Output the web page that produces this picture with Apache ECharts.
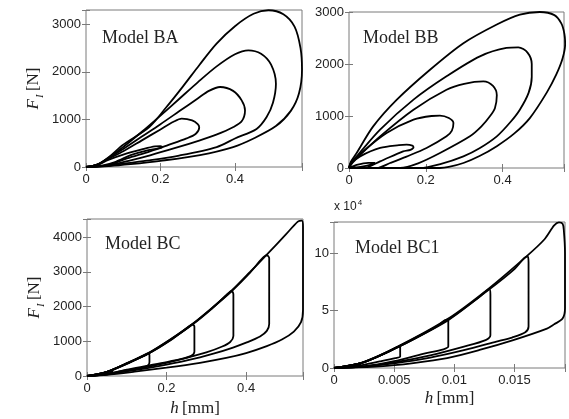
<!DOCTYPE html>
<html><head><meta charset="utf-8">
<script src="https://cdn.jsdelivr.net/npm/echarts/dist/echarts.min.js"></script>
<style>html,body{margin:0;padding:0;background:#fff}#c{width:569px;height:419px}</style>
</head><body><div id="c"></div><script>
// Hysteresis loops, indentation force F_I [N] against depth h [mm], four models.

// Model BA loops, [h, F]
const modelBA = [
  [[0,0],[0.03,50],[0.06,200],[0.1,470],[0.17,840],[0.215,1250],[0.26,1690],[0.305,2150],[0.35,2590],[0.4,2960],[0.45,3220],[0.49,3295],[0.53,3210],[0.56,2950],[0.576,2500],[0.58,2050],[0.572,1550],[0.55,1180],[0.51,860],[0.45,600],[0.395,420],[0.306,251],[0.2,130],[0.12,60],[0.06,20],[0,0]],
  [[0,0],[0.03,50],[0.06,190],[0.1,420],[0.15,740],[0.2,1080],[0.25,1430],[0.3,1780],[0.35,2110],[0.4,2370],[0.436,2453],[0.47,2380],[0.497,2150],[0.51,1750],[0.502,1350],[0.485,1050],[0.458,800],[0.4,600],[0.351,420],[0.25,240],[0.17,140],[0.1,70],[0.06,25],[0,0]],
  [[0,0],[0.03,50],[0.06,180],[0.1,380],[0.15,640],[0.2,900],[0.25,1170],[0.3,1440],[0.33,1600],[0.36,1682],[0.395,1600],[0.418,1400],[0.427,1190],[0.418,960],[0.396,841],[0.35,680],[0.306,561],[0.24,400],[0.172,245],[0.12,140],[0.06,35],[0,0]],
  [[0,0],[0.03,45],[0.06,170],[0.1,330],[0.15,560],[0.2,790],[0.235,950],[0.257,1016],[0.285,980],[0.3,900],[0.304,830],[0.295,700],[0.27,600],[0.22,460],[0.172,330],[0.11,180],[0.06,45],[0,0]],
  [[0,0],[0.03,40],[0.06,150],[0.1,260],[0.15,370],[0.185,435],[0.2,440],[0.205,415],[0.195,390],[0.16,340],[0.12,250],[0.08,110],[0.04,25],[0,0]]
];

// Model BB loops, [h, F]
const modelBB = [
  [[0,0],[0.005,120],[0.02,288],[0.063,800],[0.124,1310],[0.211,1890],[0.298,2400],[0.385,2760],[0.445,2950],[0.497,3000],[0.535,2940],[0.553,2780],[0.561,2580],[0.563,2380],[0.556,2100],[0.54,1800],[0.515,1450],[0.471,960],[0.43,660],[0.385,420],[0.34,230],[0.298,96],[0.26,20],[0.237,0],[0,0]],
  [[0,0],[0.005,100],[0.02,224],[0.081,737],[0.168,1314],[0.254,1763],[0.341,2147],[0.41,2308],[0.441,2320],[0.465,2220],[0.476,2000],[0.476,1750],[0.468,1450],[0.445,1122],[0.42,880],[0.385,609],[0.34,380],[0.298,224],[0.24,80],[0.185,0],[0,0]],
  [[0,0],[0.005,90],[0.02,192],[0.081,609],[0.168,1122],[0.254,1506],[0.3,1620],[0.35,1667],[0.375,1580],[0.385,1400],[0.38,1150],[0.367,994],[0.345,800],[0.315,609],[0.237,288],[0.18,90],[0.133,0],[0,0]],
  [[0,0],[0.005,80],[0.037,320],[0.098,673],[0.168,929],[0.215,1000],[0.237,1006],[0.26,960],[0.272,865],[0.268,720],[0.254,609],[0.202,385],[0.15,220],[0.107,96],[0.072,0],[0,0]],
  [[0,0],[0.01,110],[0.029,224],[0.081,385],[0.13,440],[0.15,449],[0.165,430],[0.168,400],[0.16,350],[0.141,320],[0.081,128],[0.037,0],[0,0]],
  [[0,0],[0.02,60],[0.05,100],[0.068,100],[0.06,70],[0.03,20],[0,0]]
];

// Model BC loops, [h, F]
const modelBC = [
  [[0,0],[0.05,120],[0.1,370],[0.154,660],[0.21,1060],[0.265,1500],[0.315,1970],[0.364,2465],[0.41,3000],[0.452,3500],[0.5,4080],[0.53,4450],[0.54,4480],[0.543,4300],[0.543,3000],[0.543,1900],[0.538,1550],[0.52,1280],[0.49,1050],[0.452,860],[0.4,660],[0.35,520],[0.284,380],[0.2,240],[0.12,125],[0.05,35],[0,0]],
  [[0,0],[0.05,120],[0.1,365],[0.154,650],[0.21,1050],[0.265,1490],[0.315,1960],[0.364,2450],[0.41,2980],[0.44,3380],[0.452,3480],[0.458,3400],[0.458,2500],[0.458,1500],[0.452,1300],[0.435,1140],[0.4,960],[0.367,820],[0.32,650],[0.284,540],[0.2,330],[0.12,170],[0.05,45],[0,0]],
  [[0,0],[0.05,120],[0.1,360],[0.154,645],[0.21,1040],[0.265,1480],[0.315,1950],[0.35,2330],[0.364,2450],[0.368,2350],[0.368,1700],[0.368,1150],[0.36,980],[0.34,850],[0.3,680],[0.25,520],[0.2,380],[0.12,190],[0.05,50],[0,0]],
  [[0,0],[0.05,118],[0.1,355],[0.154,640],[0.21,1030],[0.255,1420],[0.265,1490],[0.27,1420],[0.27,1000],[0.27,700],[0.262,580],[0.24,500],[0.2,400],[0.15,290],[0.1,180],[0.05,55],[0,0]],
  [[0,0],[0.05,115],[0.1,345],[0.145,610],[0.154,650],[0.157,600],[0.157,400],[0.154,310],[0.141,240],[0.1,170],[0.06,80],[0.03,30],[0,0]],
  [[0,0],[0.03,40],[0.06,140],[0.064,120],[0.05,60],[0,0]]
];

// Model BC1 loops, [h, F]
const modelBC1 = [
  [[0,0],[0.0024,5000],[0.0053,18600],[0.0094,42300],[0.0128,68600],[0.016,97100],[0.0175,112000],[0.0183,124000],[0.0187,126600],[0.019,125500],[0.0191,120000],[0.0192,100000],[0.0192,70000],[0.0192,52000],[0.019,43000],[0.0183,38000],[0.0177,34300],[0.0149,24300],[0.0121,15700],[0.0094,8600],[0.0066,4300],[0.0038,1400],[0,0]],
  [[0,0],[0.0024,4900],[0.0053,18400],[0.0094,41500],[0.0128,67500],[0.015,86000],[0.0158,95500],[0.0161,97100],[0.01617,92000],[0.01617,60000],[0.01617,36000],[0.0159,31000],[0.0148,26500],[0.0135,22900],[0.0108,15500],[0.008,9000],[0.005,4000],[0.0025,1200],[0,0]],
  [[0,0],[0.0024,4800],[0.0053,18200],[0.0094,41000],[0.0118,59500],[0.0126,66500],[0.0129,68600],[0.013,64000],[0.013,40000],[0.013,28500],[0.0126,24300],[0.0108,18600],[0.008,11000],[0.005,4800],[0.0025,1300],[0,0]],
  [[0,0],[0.0024,4700],[0.0053,18000],[0.0085,36000],[0.0092,41500],[0.0095,42300],[0.0095,38000],[0.0095,24000],[0.0095,18600],[0.0091,16300],[0.0074,12300],[0.005,6000],[0.0025,1500],[0,0]],
  [[0,0],[0.0024,4600],[0.0045,14000],[0.0052,18000],[0.0055,18600],[0.0055,15000],[0.0055,10000],[0.0051,8600],[0.0038,5700],[0.002,2000],[0,0]],
  [[0,0],[0.0015,2500],[0.0022,4000],[0.0022,3000],[0.0015,1500],[0,0]]
];

const panelNames = ['Model BA', 'Model BB', 'Model BC', 'Model BC1'];

// axis ranges
const xMaxes = [0.58, 0.56, 0.543, 0.0192];
const yMaxes = [3300, 3000, 4525, 127000];

// tick labels
const xTickValues = [[0, 0.2, 0.4], [0, 0.2, 0.4], [0, 0.2, 0.4], [0, 0.005, 0.01, 0.015]];
const xTickLabels = [['0', '0.2', '0.4'], ['0', '0.2', '0.4'], ['0', '0.2', '0.4'], ['0', '0.005', '0.01', '0.015']];
const yTickValues = [[0, 1000, 2000, 3000], [0, 1000, 2000, 3000], [0, 1000, 2000, 3000, 4000], [0, 50000, 100000]];
const yTickLabels = [['0', '1000', '2000', '3000'], ['0', '1000', '2000', '3000'], ['0', '1000', '2000', '3000', '4000'], ['0', '5', '10']];

const allLoops = [modelBA, modelBB, modelBC, modelBC1];

const grids = [
  { left: 86, top: 10, width: 216, height: 157 },
  { left: 349, top: 12, width: 215, height: 156 },
  { left: 87, top: 219, width: 216, height: 157 },
  { left: 334, top: 222, width: 231, height: 146 }
];
const titlePos = [[102, 29], [363, 29], [105, 235], [355, 239]];

const FRAME = '#7a7a7a';
const INK = '#000';
const SANS = 'Liberation Sans';
const SERIF = 'Liberation Serif';

function labelFor(values, labels) {
  return function (v) {
    for (let i = 0; i < values.length; i++) {
      if (Math.abs(v - values[i]) < 1e-9 * Math.max(1, Math.abs(values[i]))) return labels[i];
    }
    return '';
  };
}

const xAxes = [], yAxes = [], series = [], titles = [];

for (let p = 0; p < 4; p++) {
  const xInt = xTickValues[p][1] - xTickValues[p][0];
  const yInt = yTickValues[p][1] - yTickValues[p][0];
  const tick = { show: true, inside: true, length: 4, lineStyle: { color: FRAME, width: 1 } };
  const xMain = {
    gridIndex: p, type: 'value', min: 0, max: xMaxes[p], interval: xInt, position: 'bottom',
    axisLine: { show: false }, axisTick: tick, splitLine: { show: false },
    axisLabel: { color: '#222', fontSize: 13, fontFamily: SANS, margin: 6,
      formatter: labelFor(xTickValues[p], xTickLabels[p]) }
  };
  if (p >= 2) {
    xMain.name = '{i|h} {r|[mm]}';
    xMain.nameLocation = 'middle';
    xMain.nameGap = p === 2 ? 24 : 22;
    xMain.nameTextStyle = { rich: {
      i: { fontFamily: SERIF, fontStyle: 'italic', fontSize: 17, color: '#222' },
      r: { fontFamily: SERIF, fontSize: 17, color: '#222' } } };
  }
  const yMain = {
    gridIndex: p, type: 'value', min: 0, max: yMaxes[p], interval: yInt, position: 'left',
    axisLine: { show: false }, axisTick: tick, splitLine: { show: false },
    axisLabel: { color: '#222', fontSize: 13, fontFamily: SANS, margin: 5,
      formatter: labelFor(yTickValues[p], yTickLabels[p]) }
  };
  if (p === 0 || p === 2) {
    yMain.name = '{f|F}{s|I} {r|[N]}';
    yMain.nameLocation = 'middle';
    yMain.nameGap = 44;
    yMain.nameTextStyle = { rich: {
      f: { fontFamily: SERIF, fontStyle: 'italic', fontSize: 17, color: '#222', verticalAlign: 'bottom', lineHeight: 20 },
      s: { fontFamily: SERIF, fontStyle: 'italic', fontSize: 11, color: '#222', verticalAlign: 'bottom', lineHeight: 20, padding: [0, 0, -4, 1] },
      r: { fontFamily: SERIF, fontSize: 17, color: '#222', verticalAlign: 'bottom', lineHeight: 20 } } };
  }
  xAxes.push(xMain);
  yAxes.push(yMain);
  titles.push({ text: panelNames[p], left: titlePos[p][0], top: titlePos[p][1], padding: 0,
    textStyle: { fontFamily: SERIF, fontSize: 18, fontWeight: 'normal', color: '#222' } });
}
// mirrored ticks on the top and right edges of each box
for (let p = 0; p < 4; p++) {
  const tick = { show: true, inside: true, length: 4, lineStyle: { color: FRAME, width: 1 } };
  xAxes.push({ gridIndex: p, type: 'value', min: 0, max: xMaxes[p], interval: xTickValues[p][1], position: 'top',
    axisLine: { show: false }, axisTick: tick, axisLabel: { show: false }, splitLine: { show: false } });
  yAxes.push({ gridIndex: p, type: 'value', min: 0, max: yMaxes[p], interval: yTickValues[p][1], position: 'right',
    axisLine: { show: false }, axisTick: tick, axisLabel: { show: false }, splitLine: { show: false } });
}

allLoops.forEach(function (loops, p) {
  loops.forEach(function (loop) {
    series.push({ type: 'line', xAxisIndex: p, yAxisIndex: p, data: loop, showSymbol: false,
      smooth: 0.3, silent: true, clip: true, lineStyle: { color: INK, width: 1.8 } });
  });
});

const chart = echarts.init(document.getElementById('c'), null, { renderer: 'canvas' });
chart.setOption({
  animation: false,
  backgroundColor: '#fff',
  title: titles,
  grid: grids.map(g => Object.assign({ show: true, borderColor: FRAME, borderWidth: 1, backgroundColor: 'transparent' }, g)),
  xAxis: xAxes,
  yAxis: yAxes,
  series: series,
  graphic: [{
    type: 'text', left: 334, top: 199,
    style: { text: '{a|x 10}{b|4}', rich: {
      a: { fontFamily: SANS, fontSize: 12, fill: '#222', verticalAlign: 'bottom', lineHeight: 14 },
      b: { fontFamily: SANS, fontSize: 8, fill: '#222', verticalAlign: 'top', lineHeight: 14, padding: [0, 0, 6, 1] } } }
  }]
});
</script></body></html>
